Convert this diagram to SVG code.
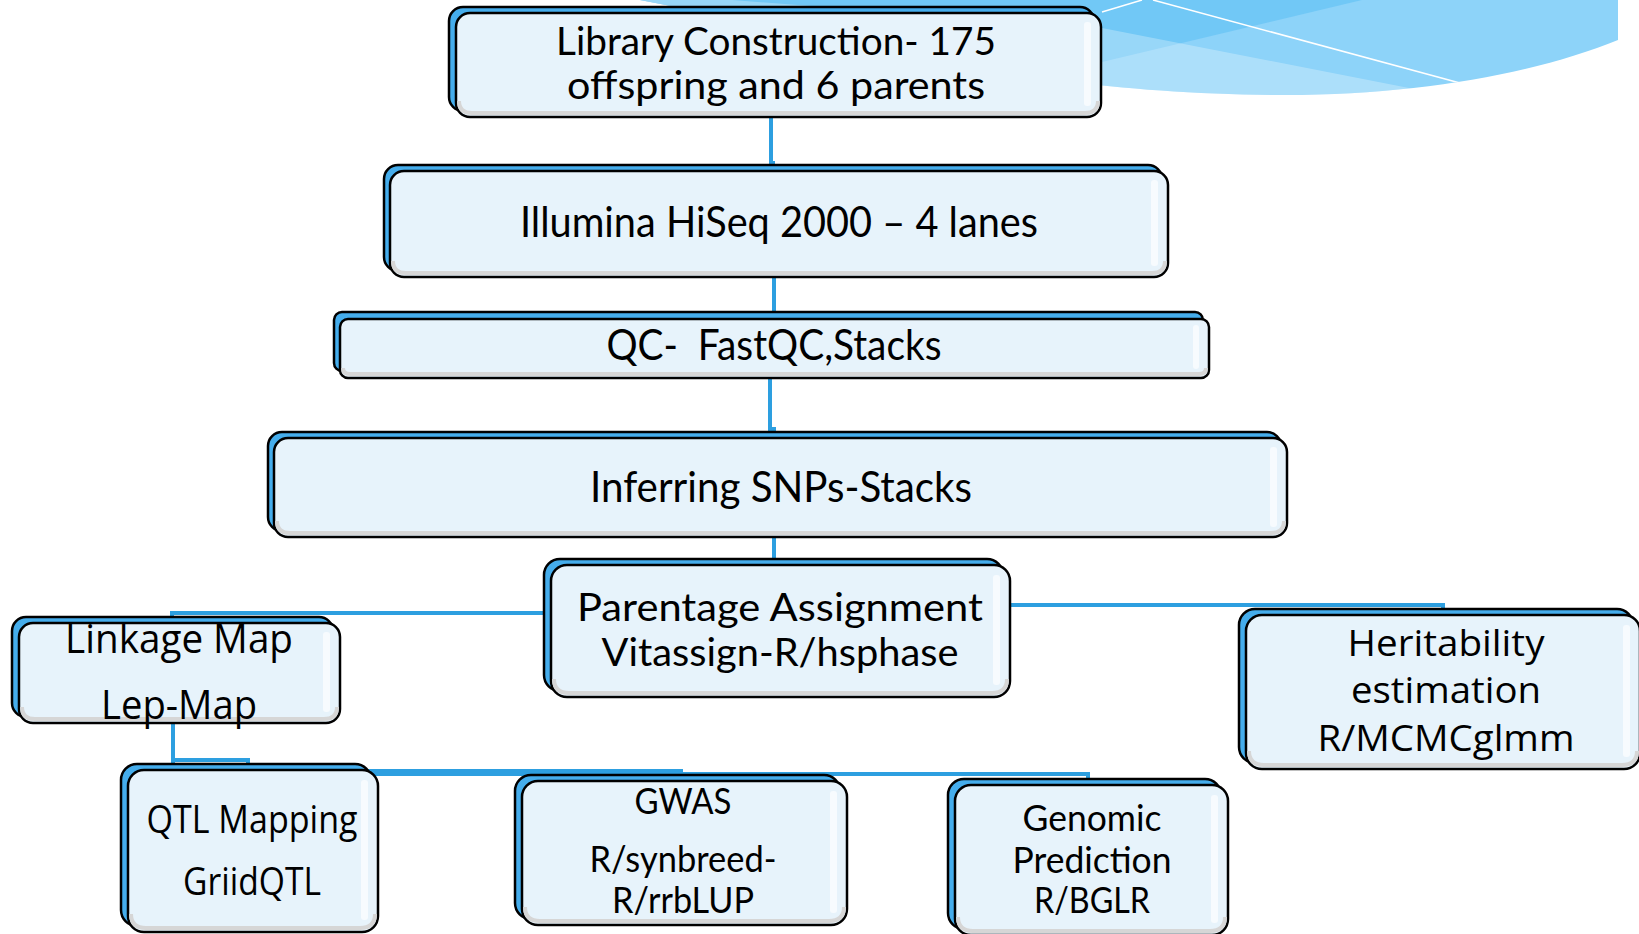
<svg xmlns="http://www.w3.org/2000/svg" width="1639" height="934" viewBox="0 0 1639 934">
<defs>
<clipPath id="swclip"><path d="M640,0 H1618 V40 C1540,72 1420,95 1285,95 C1200,95 1130,89 1060,81 L640,0 Z"/></clipPath>
<style>
.back{fill:#45ADEC;stroke:#000;stroke-width:2.5}
.front{fill:#E7F3FB;stroke:#000;stroke-width:2.5}
.bev{fill:none;stroke:#D6D6D6;stroke-width:4}
.shine{fill:#F7FBFE}
.conn{fill:none;stroke:#2D9FE0;stroke-width:4}
.t{font-family:Lato,"Liberation Sans",sans-serif;font-size:42px;fill:#000;text-anchor:middle}
.s{font-size:38px}
.w{font-family:"Open Sans","Liberation Sans",sans-serif;font-size:40px;fill:#000;text-anchor:middle}
</style>
</defs>
<rect width="1639" height="934" fill="#fff"/>
<g id="swoosh" clip-path="url(#swclip)">
<rect x="600" y="0" width="1039" height="110" fill="#8DD3F9"/>
<polygon points="600,0 1362,0 1102,62 600,130" fill="#6CC5F6" opacity="0.85"/>
<polygon points="600,-10 1102,28 1460,98 600,130" fill="#ffffff" opacity="0.28"/>
<line x1="1102" y1="12" x2="1142" y2="0" stroke="#fff" stroke-width="1.5"/>
<line x1="1153" y1="0" x2="1471" y2="86" stroke="#fff" stroke-width="1.5"/>
</g>
<g id="connectors">
<path class="conn" d="M771,117 V163 H773 V170"/>
<path class="conn" d="M774,277 V316 H771 V322"/>
<path class="conn" d="M770,378 V429 H774 V440"/>
<path class="conn" d="M774,537 V567"/>
<path class="conn" d="M551,613 H172 V625"/>
<path class="conn" d="M1010,605 H1443 V617"/>
<path class="conn" d="M173,723 V760 H248 V772"/>
<path class="conn" d="M173,723 V771 H681 V783"/>
<path class="conn" d="M173,723 V774 H1088 V787"/>
</g>
<g id="n-library">
<rect class="back" x="449" y="7" width="645" height="104" rx="14"/>
<rect class="front" x="456" y="13" width="645" height="104" rx="14"/>
<path class="bev" d="M459,101 Q459,113 472,113 H1085 Q1098,113 1098,101"/>
<rect class="shine" x="1084" y="22" width="7" height="84" rx="3"/>
<text class="t s" x="776" y="55" textLength="440" lengthAdjust="spacingAndGlyphs">Library Construction- 175</text>
<text class="t s" x="776" y="99" textLength="418" lengthAdjust="spacingAndGlyphs">offspring and 6 parents</text>
</g>
<g id="n-illumina">
<rect class="back" x="384" y="165" width="778" height="106" rx="14"/>
<rect class="front" x="390" y="171" width="778" height="106" rx="14"/>
<path class="bev" d="M393,261 Q393,273 406,273 H1152 Q1165,273 1165,261"/>
<rect class="shine" x="1151" y="180" width="7" height="86" rx="3"/>
<text class="t" x="779" y="237" textLength="518" lengthAdjust="spacingAndGlyphs">Illumina HiSeq 2000 – 4 lanes</text>
</g>
<g id="n-qc">
<rect class="back" x="334" y="312" width="869" height="59" rx="8"/>
<rect class="front" x="340" y="319" width="869" height="59" rx="8"/>
<path class="bev" d="M343,368 Q343,374 350,374 H1199 Q1206,374 1206,368"/>
<rect class="shine" x="1193" y="325" width="6" height="44" rx="3"/>
<text class="t" x="774" y="360" textLength="335" lengthAdjust="spacingAndGlyphs">QC-&#160; FastQC,Stacks</text>
</g>
<g id="n-infer">
<rect class="back" x="268" y="432" width="1013" height="99" rx="14"/>
<rect class="front" x="274" y="438" width="1013" height="99" rx="14"/>
<path class="bev" d="M277,521 Q277,533 290,533 H1271 Q1284,533 1284,521"/>
<rect class="shine" x="1270" y="447" width="7" height="80" rx="3"/>
<text class="t" x="781" y="502" textLength="382" lengthAdjust="spacingAndGlyphs">Inferring SNPs-Stacks</text>
</g>
<g id="n-parentage">
<rect class="back" x="544" y="559" width="459" height="132" rx="16"/>
<rect class="front" x="551" y="565" width="459" height="132" rx="16"/>
<path class="bev" d="M554,679 Q554,693 569,693 H992 Q1007,693 1007,679"/>
<rect class="shine" x="993" y="575" width="7" height="110" rx="3"/>
<text class="t s" x="780" y="621" textLength="406" lengthAdjust="spacingAndGlyphs">Parentage Assignment</text>
<text class="t s" x="780" y="666" textLength="357" lengthAdjust="spacingAndGlyphs">Vitassign-R/hsphase</text>
</g>
<g id="n-linkage">
<rect class="back" x="12" y="617" width="321" height="100" rx="14"/>
<rect class="front" x="19" y="623" width="321" height="100" rx="14"/>
<path class="bev" d="M22,707 Q22,719 35,719 H324 Q337,719 337,707"/>
<rect class="shine" x="323" y="632" width="7" height="80" rx="3"/>
<text class="w" x="179" y="653" textLength="228" lengthAdjust="spacingAndGlyphs">Linkage Map</text>
<text class="w" x="179" y="719" textLength="156" lengthAdjust="spacingAndGlyphs">Lep-Map</text>
</g>
<g id="n-heritability">
<rect class="back" x="1239" y="609" width="394" height="154" rx="16"/>
<rect class="front" x="1246" y="615" width="394" height="154" rx="16"/>
<path class="bev" d="M1249,751 Q1249,765 1264,765 H1622 Q1637,765 1637,751"/>
<rect class="shine" x="1623" y="625" width="7" height="132" rx="3"/>
<text class="w" x="1446" y="656" style="font-size:37px" textLength="197" lengthAdjust="spacingAndGlyphs">Heritability</text>
<text class="w" x="1446" y="703" style="font-size:37px" textLength="190" lengthAdjust="spacingAndGlyphs">estimation</text>
<text class="w" x="1446" y="751" style="font-size:37px" textLength="257" lengthAdjust="spacingAndGlyphs">R/MCMCglmm</text>
</g>
<g id="n-qtl">
<rect class="back" x="121" y="764" width="250" height="162" rx="16"/>
<rect class="front" x="128" y="770" width="250" height="162" rx="16"/>
<path class="bev" d="M131,914 Q131,928 146,928 H360 Q375,928 375,914"/>
<rect class="shine" x="361" y="780" width="7" height="140" rx="3"/>
<text class="w" x="252" y="833" style="font-size:38px" textLength="211" lengthAdjust="spacingAndGlyphs">QTL Mapping</text>
<text class="w" x="252" y="895" style="font-size:38px" textLength="138" lengthAdjust="spacingAndGlyphs">GriidQTL</text>
</g>
<g id="n-gwas">
<rect class="back" x="515" y="775" width="325" height="144" rx="16"/>
<rect class="front" x="522" y="781" width="325" height="144" rx="16"/>
<path class="bev" d="M525,907 Q525,921 540,921 H829 Q844,921 844,907"/>
<rect class="shine" x="830" y="791" width="7" height="122" rx="3"/>
<text class="t" x="683" y="814" style="font-size:37px" textLength="97" lengthAdjust="spacingAndGlyphs">GWAS</text>
<text class="t" x="683" y="872" style="font-size:37px" textLength="187" lengthAdjust="spacingAndGlyphs">R/synbreed-</text>
<text class="t" x="683" y="913" style="font-size:37px" textLength="142" lengthAdjust="spacingAndGlyphs">R/rrbLUP</text>
</g>
<g id="n-genomic">
<rect class="back" x="948" y="779" width="273" height="150" rx="16"/>
<rect class="front" x="955" y="785" width="273" height="150" rx="16"/>
<path class="bev" d="M958,917 Q958,931 973,931 H1210 Q1225,931 1225,917"/>
<rect class="shine" x="1211" y="795" width="7" height="128" rx="3"/>
<text class="t" x="1092" y="831" style="font-size:36px" textLength="139" lengthAdjust="spacingAndGlyphs">Genomic</text>
<text class="t" x="1092" y="873" style="font-size:36px" textLength="159" lengthAdjust="spacingAndGlyphs">Prediction</text>
<text class="t" x="1092" y="913" style="font-size:36px" textLength="116" lengthAdjust="spacingAndGlyphs">R/BGLR</text>
</g>
</svg>
